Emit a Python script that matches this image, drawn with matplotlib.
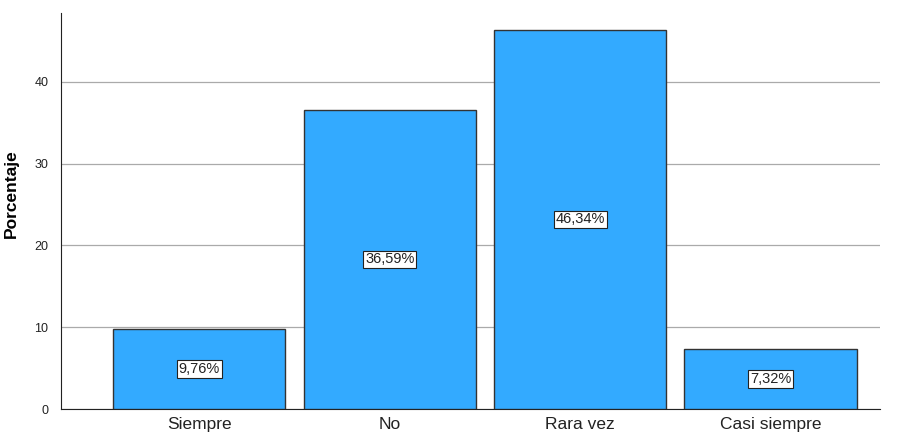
import matplotlib
matplotlib.use("Agg")
import matplotlib.pyplot as plt

categories = ["Siempre", "No", "Rara vez", "Casi siempre"]
values = [9.76, 36.59, 46.34, 7.32]
labels = ["9,76%", "36,59%", "46,34%", "7,32%"]
yticks = [0, 10, 20, 30, 40]

plt.rcParams['font.family'] = ['Liberation Sans', 'DejaVu Sans']

fig = plt.figure(figsize=(8.98, 4.37), dpi=100)
ax = fig.add_axes([61/898, 1-409/437, (880-61)/898, (409-13)/437])

x = list(range(len(categories)))
ax.bar(x, values, width=0.905, color="#33AAFF", edgecolor="#333333", linewidth=1.0, zorder=3)
for xi, v, lab in zip(x, values, labels):
    ax.text(xi, v/2, lab, ha="center", va="center", fontsize=10.5, color="#222222", zorder=4,
            bbox=dict(boxstyle="square,pad=0.12", facecolor="white", edgecolor="#222222", linewidth=0.8))

ax.set_xlim(-0.726, 3.574)
ax.set_ylim(0, 48.4)
ax.set_yticks(yticks)
ax.set_yticklabels([str(t) for t in yticks], fontsize=9)
ax.set_xticks(x)
ax.set_xticklabels(categories, fontsize=12.5)
ax.tick_params(axis="both", length=0, pad=6, colors="#222222")
ax.tick_params(axis="y", pad=9)
ax.yaxis.grid(True, color="#AAAAAA", linewidth=0.9, zorder=0)
ax.set_axisbelow(True)
for s in ["top", "right"]:
    ax.spines[s].set_visible(False)
ax.spines["left"].set_color("#222222")
ax.spines["bottom"].set_color("#222222")
ax.set_ylabel("Porcentaje", fontsize=12.5, fontweight="bold")
ax.yaxis.set_label_coords(-0.052, 0.543)

fig.savefig("out.png", dpi=100)
